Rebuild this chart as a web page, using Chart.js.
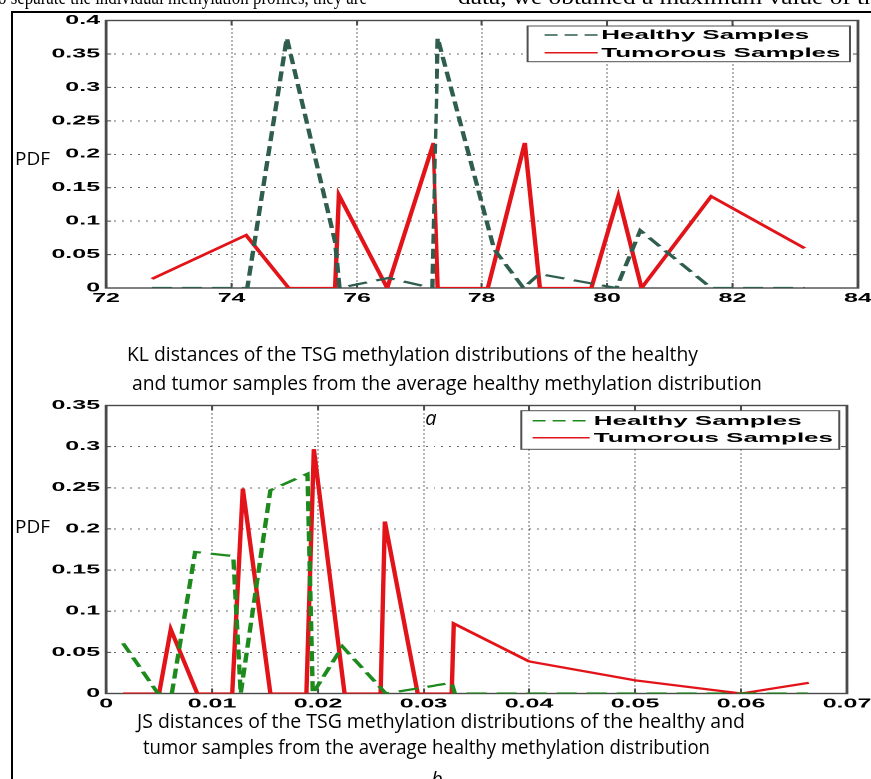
<!DOCTYPE html>
<html>
<head>
<meta charset="utf-8">
<script src="https://cdn.jsdelivr.net/npm/chart.js@4.4.1/dist/chart.umd.min.js"></script>
<style>
html,body{margin:0;padding:0;background:#fff;overflow:hidden;}
#stage{position:relative;width:871px;height:779px;overflow:hidden;background:#fff;}
.rule{position:absolute;background:#000;}
.txt{position:absolute;white-space:nowrap;line-height:1;transform-origin:0 0;color:#000;}
#wide{position:absolute;left:0;top:0;width:436px;height:779px;transform:scaleX(1.997706);transform-origin:0 0;}
#wide canvas{position:absolute;left:0;}
</style>
</head>
<body>
<div id="stage">
  <div id="wide">
    <canvas id="cA" width="436" height="330" style="top:0px"></canvas>
    <canvas id="cB" width="436" height="330" style="top:390px"></canvas>
  </div>
  <div class="rule" style="left:11px;top:11px;width:860px;height:2px"></div>
  <div class="rule" style="left:11px;top:11px;width:2px;height:768px"></div>
</div>
<script>
// ---------- data (panel a: KL distances) ----------
const seriesNames = ['Healthy Samples', 'Tumorous Samples'];
const klHealthyX = [72.73, 74.25, 74.88, 75.65, 75.72, 76.50, 77.20, 77.30, 78.20, 78.67, 78.92, 80.15, 80.53, 81.66, 83.15];
const klHealthyY = [0, 0, 0.374, 0.069, 0, 0.015, 0, 0.374, 0.058, 0, 0.021, 0, 0.086, 0, 0];
const klTumorX   = [72.73, 74.23, 74.91, 75.65, 75.71, 76.48, 77.22, 77.30, 78.10, 78.69, 78.93, 79.75, 80.18, 80.55, 81.66, 83.15];
const klTumorY   = [0.0135, 0.079, 0, 0, 0.139, 0, 0.217, 0, 0, 0.217, 0, 0, 0.137, 0, 0.137, 0.0595];
const klXTicks = [72, 84, 2];       // min, max, step
const klYTicks = [0, 0.4, 0.05];

// ---------- data (panel b: JS distances) ----------
const jsHealthyX = [0.0016, 0.0049, 0.0062, 0.0084, 0.0120, 0.0127, 0.0155, 0.0190, 0.0195, 0.0223, 0.0264, 0.0327, 0.0330, 0.0663];
const jsHealthyY = [0.061, 0, 0, 0.172, 0.167, 0, 0.247, 0.267, 0, 0.057, 0, 0.013, 0, 0];
const jsTumorX   = [0.0016, 0.0050, 0.0061, 0.0086, 0.0119, 0.0129, 0.0155, 0.0189, 0.0196, 0.0225, 0.0259, 0.0263, 0.0294, 0.0327, 0.0329, 0.0400, 0.0500, 0.0600, 0.0664];
const jsTumorY   = [0, 0, 0.078, 0, 0, 0.249, 0, 0, 0.297, 0, 0, 0.209, 0, 0, 0.085, 0.039, 0.016, 0, 0.013];
const jsXTicks = [0, 0.07, 0.01];
const jsYTicks = [0, 0.35, 0.05];

// ---------- layout helpers ----------
const S = 871 / 436;               // horizontal stretch of the figure
const nx = v => v / S;             // final px -> native px
const stage = document.getElementById('stage');
const fmt = v => String(Number(Number(v).toFixed(4)));
const pts = (xs, ys) => xs.map((x, i) => ({x, y: ys[i]}));
const tickFont = {family: '"Liberation Sans", Arial, sans-serif', size: 12.5, weight: 'bold'};

const matlabBox = {
  id: 'matlabBox',
  beforeDatasetsDraw(chart) {
    const {ctx, chartArea: a, scales: {x, y}} = chart;
    ctx.save();
    ctx.strokeStyle = '#4a4a4a';
    ctx.lineWidth = 1;
    ctx.beginPath();
    x.ticks.forEach(t => { const p = x.getPixelForValue(t.value);
      ctx.moveTo(p, a.bottom); ctx.lineTo(p, a.bottom - 5); ctx.moveTo(p, a.top); ctx.lineTo(p, a.top + 5); });
    y.ticks.forEach(t => { const p = y.getPixelForValue(t.value);
      ctx.moveTo(a.left, p); ctx.lineTo(a.left + 2.5, p); ctx.moveTo(a.right, p); ctx.lineTo(a.right - 2.5, p); });
    ctx.stroke();
    ctx.lineWidth = 1.4;
    ctx.strokeRect(a.left, a.top, a.right - a.left, a.bottom - a.top);
    ctx.restore();
  },
  afterDraw(chart, args, o) {
    const L = o.legend; if (!L) return;
    const ctx = chart.ctx;
    ctx.save();
    ctx.fillStyle = '#fff';
    ctx.fillRect(L.x0, L.y0, L.x1 - L.x0, L.y1 - L.y0);
    ctx.strokeStyle = '#505050'; ctx.lineWidth = 1;
    ctx.strokeRect(L.x0, L.y0, L.x1 - L.x0, L.y1 - L.y0);
    chart.data.datasets.forEach((ds, i) => {
      const yy = L.rows[i];
      ctx.strokeStyle = ds.borderColor; ctx.lineWidth = 1.5;
      ctx.setLineDash(ds.borderDash && ds.borderDash.length ? [6.5, 3.5] : []);
      ctx.beginPath(); ctx.moveTo(L.s0, yy); ctx.lineTo(L.s1, yy); ctx.stroke();
      ctx.setLineDash([]);
      ctx.fillStyle = '#000';
      ctx.font = 'bold 13px "Liberation Sans", Arial, sans-serif';
      ctx.textBaseline = 'middle'; ctx.textAlign = 'left';
      ctx.fillText(ds.label, L.tx, yy + 0.5);
    });
    ctx.restore();
  }
};

function makeChart(id, cfg) {
  const c = document.getElementById(id);
  const H = 330;
  return new Chart(c, {
    type: 'line',
    data: {
      datasets: [
        {label: seriesNames[0], data: pts(cfg.hx, cfg.hy), borderColor: cfg.hColor, borderWidth: 2.2,
         borderDash: [10, 5], pointRadius: 0, tension: 0, fill: false},
        {label: seriesNames[1], data: pts(cfg.tx, cfg.ty), borderColor: '#e2141a', borderWidth: 2.2,
         pointRadius: 0, tension: 0, fill: false}
      ]
    },
    options: {
      responsive: false, animation: false, devicePixelRatio: 2,
      layout: {padding: {left: 0, top: cfg.top, right: 436 - nx(cfg.right), bottom: 0}},
      plugins: {legend: {display: false}, tooltip: {enabled: false}, matlabBox: {legend: cfg.legend}},
      scales: {
        x: {
          type: 'linear', min: cfg.xt[0], max: cfg.xt[1],
          ticks: {stepSize: cfg.xt[2], autoSkip: false, maxRotation: 0, padding: 3, color: '#000', font: tickFont,
                  callback: v => fmt(v)},
          grid: {drawTicks: false, color: '#6a6a6a', lineWidth: 1},
          border: {display: false, dash: [1, 3]},
          afterFit: s => { s.height = H - cfg.bottom; s.paddingLeft = 0; s.paddingRight = 0; }
        },
        y: {
          type: 'linear', min: cfg.yt[0], max: cfg.yt[1],
          ticks: {stepSize: cfg.yt[2], autoSkip: false, padding: 3, color: '#000', font: tickFont,
                  callback: v => fmt(v)},
          grid: {drawTicks: false, color: '#6a6a6a', lineWidth: 1},
          border: {display: false, dash: [1, 3]},
          afterFit: s => { s.width = nx(106); s.paddingTop = 0; s.paddingBottom = 0; }
        }
      }
    },
    plugins: [matlabBox]
  });
}

makeChart('cA', {
  hx: klHealthyX, hy: klHealthyY, tx: klTumorX, ty: klTumorY, hColor: '#2f5d4e',
  xt: klXTicks, yt: klYTicks, top: 20.5, bottom: 288, right: 858,
  legend: {x0: nx(528), x1: nx(850), y0: 26, y1: 61.7, s0: nx(545), s1: nx(598), tx: nx(601.5), rows: [35, 52.7]}
});
makeChart('cB', {
  hx: jsHealthyX, hy: jsHealthyY, tx: jsTumorX, ty: jsTumorY, hColor: '#1d8a1d',
  xt: jsXTicks, yt: jsYTicks, top: 15.5, bottom: 303.5, right: 847,
  legend: {x0: nx(521.7), x1: nx(839.3), y0: 20.7, y1: 59.3, s0: nx(533), s1: nx(590), tx: nx(594), rows: [30.7, 47.7]}
});

// ---------- text outside the plots ----------
function addText(str, o) {
  const el = document.createElement('div');
  el.className = 'txt';
  el.textContent = str;
  el.style.fontFamily = o.family;
  el.style.fontSize = o.size + 'px';
  if (o.italic) el.style.fontStyle = 'italic';
  stage.appendChild(el);
  const w = el.getBoundingClientRect().width;
  let k = 1;
  if (o.width) { k = o.width / w; el.style.transform = 'scaleX(' + k + ')'; }
  const left = (o.cx !== undefined) ? o.cx - w * k / 2 : o.left;
  el.style.left = left + 'px';
  el.style.top = o.top + 'px';
  return el;
}
const sans = '"Open Sans", "Noto Sans", sans-serif';
const serif = '"Liberation Serif", "Times New Roman", serif';
const capTop = (cy, s) => cy - 0.531 * s;
const xTop = (cy, s) => cy - 0.62 * s;

addText('o separate the individual methylation profiles, they are', {family: serif, size: 21, left: -2, top: 5 - 0.8375 * 21, width: 369});
addText('data, we obtained a maximum value of the', {family: serif, size: 21, left: 458, top: 5 - 0.8375 * 21, width: 430});

addText('PDF', {family: sans, size: 19, left: 15, top: capTop(159, 19)});
addText('PDF', {family: sans, size: 19, left: 15, top: capTop(527, 19)});

addText('KL distances of the TSG methylation distributions of the healthy', {family: sans, size: 20, left: 127, top: capTop(355, 20), width: 571});
addText('and tumor samples from the average healthy methylation distribution', {family: sans, size: 20, left: 132, top: capTop(384, 20), width: 630});
addText('a', {family: sans, size: 20, italic: true, cx: 431, top: xTop(420, 20)});
addText('JS distances of the TSG methylation distributions of the healthy and', {family: sans, size: 20, left: 137, top: capTop(722, 20), width: 608});
addText('tumor samples from the average healthy methylation distribution', {family: sans, size: 20, left: 143, top: capTop(748, 20), width: 567});
addText('b', {family: sans, size: 20, italic: true, cx: 437, top: xTop(781, 20)});
</script>
</body>
</html>
